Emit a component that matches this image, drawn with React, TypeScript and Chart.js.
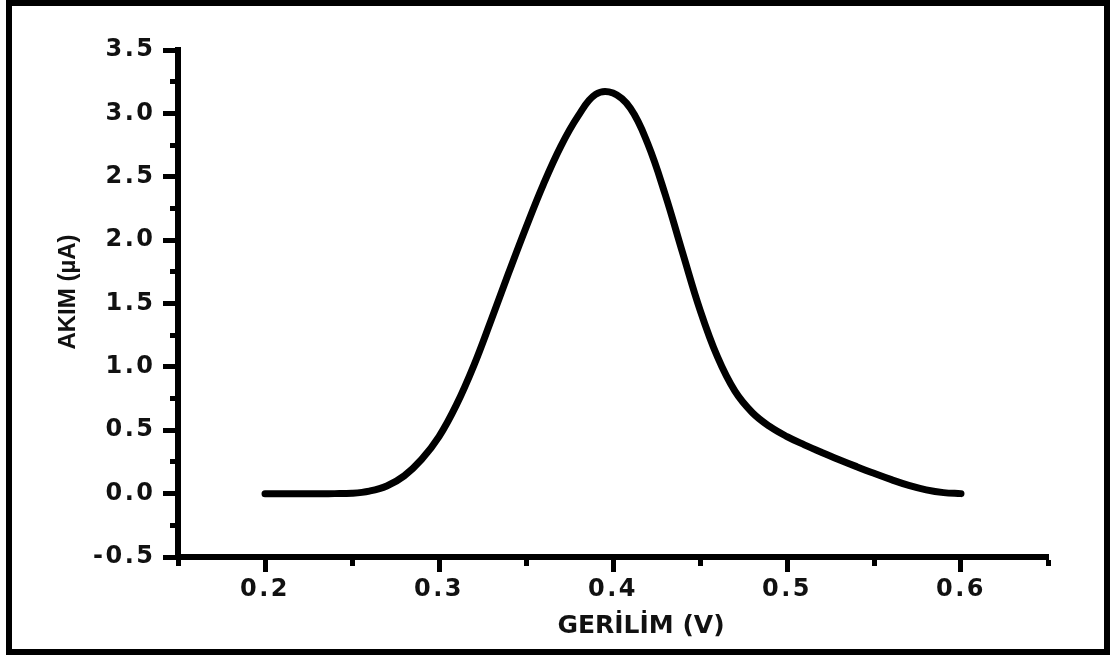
import React, { useEffect, useRef } from "react";
import { Chart, registerables } from "chart.js";

Chart.register(...registerables);

// Voltage (V) sample positions
const voltages = [
  0.2, 0.21, 0.22, 0.23, 0.24, 0.25, 0.26, 0.27, 0.28, 0.29, 0.3, 0.31, 0.32,
  0.33, 0.34, 0.35, 0.36, 0.37, 0.38, 0.39, 0.4, 0.41, 0.42, 0.43, 0.44, 0.45,
  0.46, 0.47, 0.48, 0.49, 0.5, 0.51, 0.52, 0.53, 0.54, 0.55, 0.56, 0.57, 0.58,
  0.59, 0.6,
];
// Current (µA) values
const currents = [
  0, 0, 0, 0, 0, 0.003, 0.02, 0.06, 0.14, 0.27, 0.45, 0.7, 1.01, 1.37, 1.74,
  2.1, 2.44, 2.74, 2.98, 3.15, 3.16, 3.04, 2.76, 2.36, 1.9, 1.45, 1.08, 0.81,
  0.64, 0.53, 0.45, 0.385, 0.325, 0.268, 0.213, 0.16, 0.11, 0.065, 0.03, 0.008, 0.0,
];

const xMin = 0.15;
const xMax = 0.65;
const xStep = 0.05;
const yMin = -0.5;
const yMax = 3.5;
const yStep = 0.25;

const xTitle = "GERİLİM (V)";
const yTitle = "AKIM (µA)";

const TEXT = "#111111";

const tickSpacingPlugin = {
  id: "tickSpacing",
  afterDatasetsDraw(chart: any) {
    chart.ctx.letterSpacing = "2.5px";
  },
  afterDraw(chart: any) {
    chart.ctx.letterSpacing = "0px";
  },
};

export default function App() {
  const canvasRef = useRef<HTMLCanvasElement | null>(null);

  useEffect(() => {
    if (!canvasRef.current) return;
    const points = voltages.map((v, i) => ({ x: v, y: currents[i] }));
    const tickFont = { family: "'DejaVu Sans', sans-serif", size: 24, weight: "bold" as const };

    const chart = new Chart(canvasRef.current, {
      type: "scatter",
      data: {
        datasets: [
          {
            data: points,
            showLine: true,
            borderColor: "#000",
            borderWidth: 7,
            borderCapStyle: "round",
            borderJoinStyle: "round",
            pointRadius: 0,
            tension: 0.4,
            fill: false,
          },
        ],
      },
      options: {
        animation: false,
        responsive: false,
        events: [],
        layout: { padding: { left: 0, top: 50, right: 67, bottom: 0 } },
        plugins: {
          legend: { display: false },
          tooltip: { enabled: false },
          title: { display: false },
        },
        scales: {
          x: {
            type: "linear",
            min: xMin,
            max: xMax,
            afterFit: (s: any) => {
              s.height = 100;
              s.paddingLeft = 0;
              s.paddingRight = 0;
            },
            ticks: {
              stepSize: xStep,
              includeBounds: false,
              autoSkip: false,
              maxRotation: 0,
              minRotation: 0,
              padding: 3,
              z: 1,
              color: TEXT,
              font: tickFont,
              callback: (v: any) =>
                Math.round(Number(v) * 100) % 10 === 0 ? Number(v).toFixed(1) : "",
            },
            grid: {
              drawOnChartArea: false,
              drawTicks: true,
              tickLength: 15,
              tickWidth: 5,
              tickColor: "#000",
              tickBorderDash: (ctx: any) =>
                ctx.tick && Math.round(ctx.tick.value * 100) % 10 !== 0 ? [6, 100] : [],
              tickBorderDashOffset: 0,
            },
            border: { display: true, color: "#000", width: 6 },
          },
          y: {
            type: "linear",
            min: yMin,
            max: yMax,
            afterFit: (s: any) => {
              s.width = 178;
              s.paddingTop = 0;
              s.paddingBottom = 0;
            },
            ticks: {
              stepSize: yStep,
              includeBounds: false,
              autoSkip: false,
              padding: 7.5,
              z: 1,
              color: TEXT,
              font: tickFont,
              callback: (v: any) =>
                Math.abs(Math.round(Number(v) * 100) % 50) === 0 ? Number(v).toFixed(1) : "",
            },
            grid: {
              drawOnChartArea: false,
              drawTicks: true,
              tickLength: 15,
              tickWidth: 5,
              tickColor: "#000",
              tickBorderDash: (ctx: any) =>
                ctx.tick && Math.abs(Math.round(ctx.tick.value * 100) % 50) !== 0 ? [5, 100] : [],
              tickBorderDashOffset: 98,
            },
            border: { display: true, color: "#000", width: 6 },
          },
        },
      } as any,
      plugins: [tickSpacingPlugin],
    });

    return () => chart.destroy();
  }, []);

  return (
    <div style={{ position: "absolute", left: 0, top: 0, width: 1115, height: 657, background: "#fff" }}>
      <canvas
        ref={canvasRef}
        width={1115}
        height={657}
        style={{ position: "absolute", left: 0, top: 0, width: 1115, height: 657 }}
      />
      <div
        style={{
          position: "absolute",
          left: 6,
          top: 0,
          width: 1104,
          height: 655,
          border: "6px solid #000",
          boxSizing: "border-box",
          pointerEvents: "none",
        }}
      />
      <div
        style={{
          position: "absolute",
          left: 66.5,
          top: 291.5,
          transform: "translate(-50%, -50%) rotate(-90deg)",
          whiteSpace: "nowrap",
          lineHeight: 1,
          fontFamily: "'Liberation Sans', Arial, sans-serif",
          fontWeight: "bold",
          fontSize: 24,
          color: TEXT,
        }}
      >
        {yTitle}
      </div>
      <div
        style={{
          position: "absolute",
          left: 641,
          top: 624,
          transform: "translate(-50%, -50%)",
          whiteSpace: "nowrap",
          lineHeight: 1,
          fontFamily: "'DejaVu Sans', sans-serif",
          fontWeight: "bold",
          fontSize: 25,
          color: TEXT,
        }}
      >
        {xTitle}
      </div>
    </div>
  );
}
